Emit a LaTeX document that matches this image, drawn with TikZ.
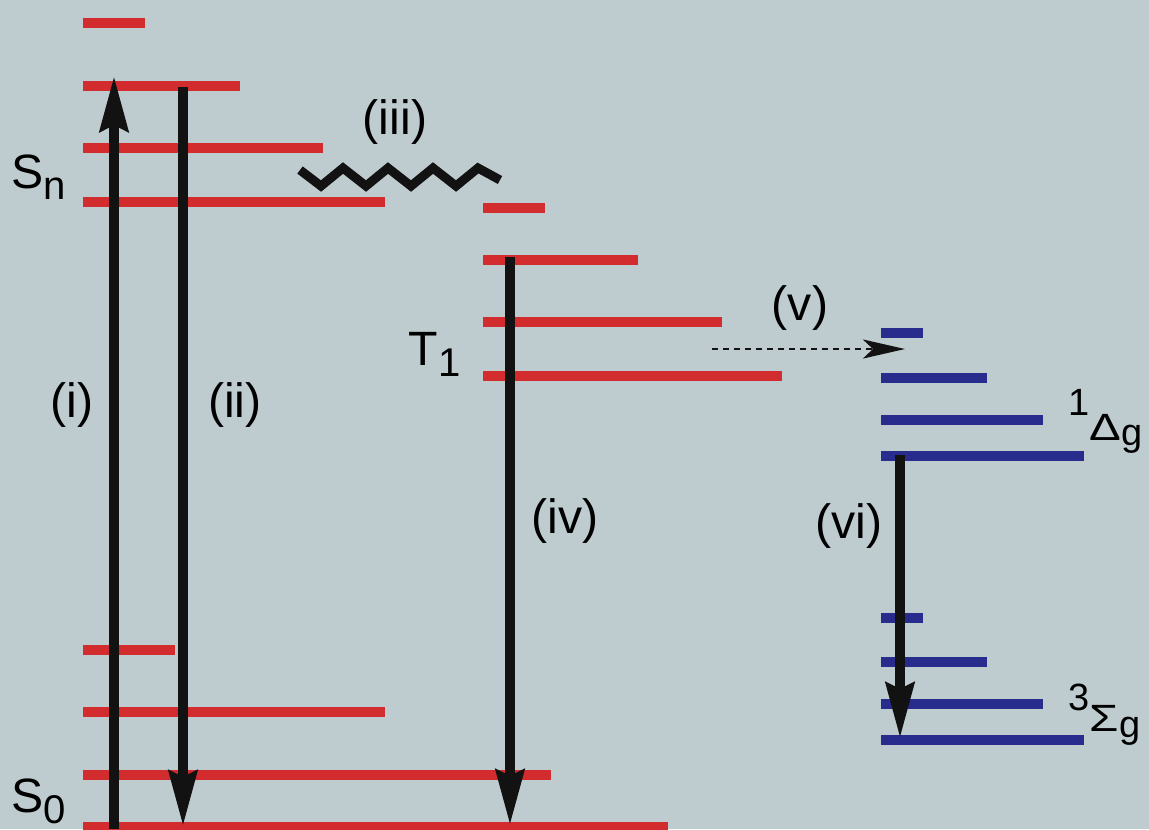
\documentclass[tikz,border=0pt]{standalone}
\usepackage{fontspec}
\setmainfont{Liberation Sans}
\usetikzlibrary{arrows.meta}
\definecolor{bgcol}{RGB}{190,204,208}
\definecolor{lvlred}{RGB}{210,44,46}
\definecolor{lvlblue}{RGB}{40,44,140}
\newcommand{\lowsub}[1]{\raisebox{-0.11cm}{\fontsize{11.4}{12}\selectfont #1}}
\newcommand{\widesym}[1]{\scalebox{1.25}[1]{#1}}

\begin{document}
\begin{tikzpicture}[
	x=0.01cm, y=-0.01cm,
	levelr/.style={ lvlred, line width=0.1cm },
	levelb/.style={ lvlblue, line width=0.1cm },
	trans/.style={ black!93, line width=0.1cm, -{Stealth[length=0.55cm, width=0.28cm, inset=0.06cm]} },
	energy/.style={ black!93, line width=0.028cm, dash pattern=on 0.055cm off 0.055cm, -{Stealth[length=0.42cm, width=0.19cm, inset=0.1cm]} },
	wiggle/.style={ black!93, line width=0.09cm, line join=miter },
	tag/.style={ inner sep=0pt, font=\fontsize{13.7}{16}\selectfont },
	term/.style={ inner sep=0pt, anchor=base west, font=\fontsize{10.8}{12}\selectfont }
]

\fill[bgcol] (0,0) rectangle (1149,829);
\useasboundingbox (0,0) rectangle (1149,829);

% singlet levels
\foreach \y/\e in {23/145, 86/240, 148/323, 202/385, 650/175, 712/385, 775/551, 827/668}
	\draw[levelr] (83,\y) -- (\e,\y);
% triplet levels
\foreach \y/\e in {208/545, 260/638, 322/722, 376/782}
	\draw[levelr] (483,\y) -- (\e,\y);
% oxygen levels
\foreach \y/\e in {333/923, 378/987, 420/1043, 456/1084, 618/923, 662/987, 704/1043, 740/1084}
	\draw[levelb] (881,\y) -- (\e,\y);

\coordinate (A0) at (114,829); \coordinate (A1) at (114,76);
\coordinate (B0) at (183,87);  \coordinate (B1) at (183,826);
\coordinate (C0) at (510,257); \coordinate (C1) at (510,825);
\coordinate (D0) at (900,455); \coordinate (D1) at (900,738);
\coordinate (E0) at (712,349); \coordinate (E1) at (905,349);

\foreach \p/\q in {A0/A1, B0/B1, C0/C1, D0/D1} \draw[trans] (\p) -- (\q);
\draw[energy] (E0) -- (E1);
\draw[wiggle] (300,170) \foreach \k in {0,...,3} { -- ({321+45*\k},186) -- ({343+45*\k},168) } -- (500,180);

\node[tag] (Li) at (72,405) {(i)};
\node[tag] (Lii) at (235,405) {(ii)};
\node[tag] (Liii) at (395,122) {(iii)};
\node[tag] (Liv) at (565,521) {(iv)};
\node[tag] (Lv) at (800,308) {(v)};
\node[tag] (Lvi) at (849,526) {(vi)};
\node[tag, anchor=base west] (Sn) at (11,188) {S\lowsub{n}};
\node[tag, anchor=base west] (S0) at (11,812) {S\lowsub{0}};
\node[tag, anchor=base west] (T1) at (408,365) {T\lowsub{1}};
\node[term] (Dg) at (1068,440) {\raisebox{0.25cm}{1}\widesym{Δ}\raisebox{-0.05cm}{g}};
\node[term] (Sg) at (1068,731) {\raisebox{0.21cm}{3}\widesym{Σ}\raisebox{-0.06cm}{g}};

\end{tikzpicture}
\end{document}
